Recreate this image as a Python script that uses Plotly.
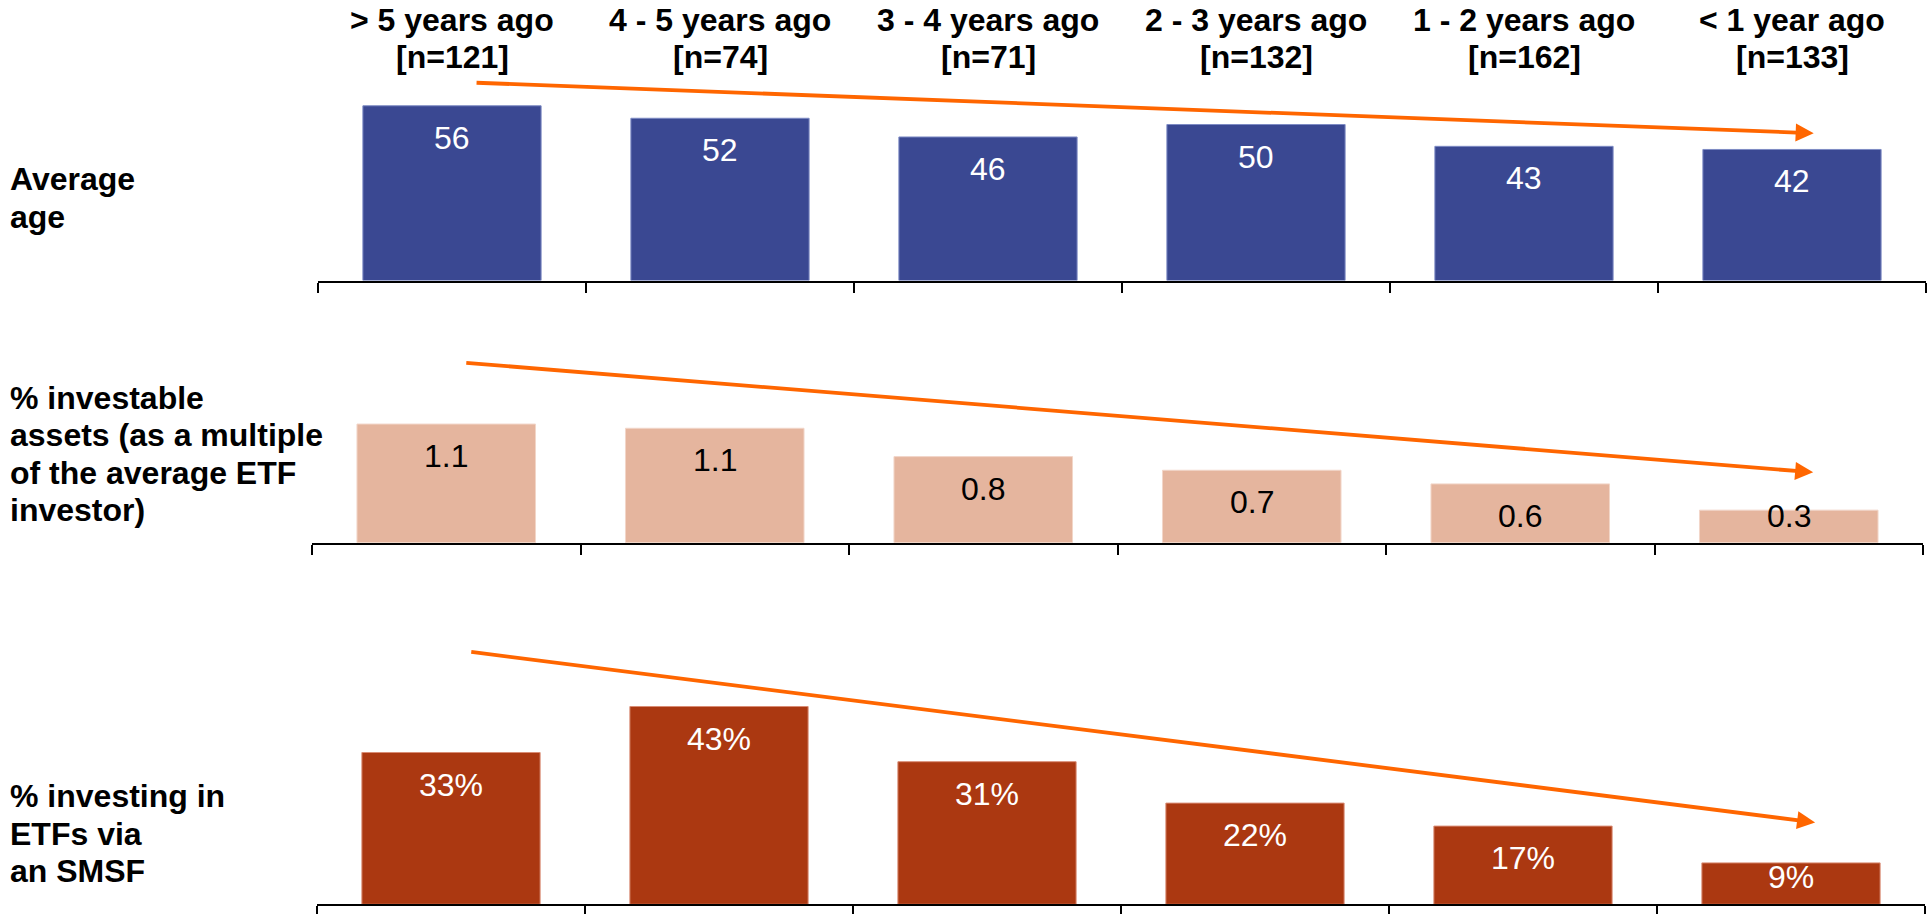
import plotly.graph_objects as go

# ---------------- data ----------------
periods = ["> 5 years ago", "4 - 5 years ago", "3 - 4 years ago",
           "2 - 3 years ago", "1 - 2 years ago", "< 1 year ago"]
sample_sizes = [121, 74, 71, 132, 162, 133]

avg_age = [56, 52, 46, 50, 43, 42]
rel_assets = [1.13, 1.09, 0.82, 0.69, 0.56, 0.31]
smsf_pct = [33, 43, 31, 22, 17, 9]

row_titles = [
    ["Average", "age"],
    ["% investable", "assets (as a multiple", "of the average ETF", "investor)"],
    ["% investing in", "ETFs via", "an SMSF"],
]

# trend arrows (start -> tip), in category-index / value units of each panel
trend_start = [(0.086, 63.4), (0.069, 1.714), (0.070, 54.9)]
trend_end = [(5.081, 47.2), (5.091, 0.670), (5.090, 17.8)]

# ---------------- styling ----------------
W, H = 1928, 914
FONT = "Liberation Sans, Arial, Helvetica, sans-serif"
ORANGE = "#FF6600"

panels = [
    dict(values=avg_age, fmt=lambda v: f"{v:g}", color="#3A4892", edge="#7E8BC4",
         txt="white", x0=318, x1=1926, base=280.5, scale=3.12, ymax=70),
    dict(values=rel_assets, fmt=lambda v: f"{v:.1f}", color="#E5B59E", edge="#F2D6C9",
         txt="black", x0=312, x1=1923, base=542.7, scale=105.0, ymax=1.9),
    dict(values=smsf_pct, fmt=lambda v: f"{v:g}%", color="#AB3811", edge="#D98C74",
         txt="white", x0=317, x1=1925, base=904.3, scale=4.6, ymax=58),
]

fig = go.Figure()
annotations = []

for k, p in enumerate(panels):
    sfx = "" if k == 0 else str(k + 1)
    xa, ya = "x" + sfx, "y" + sfx
    fig.add_trace(go.Bar(
        x=periods, y=p["values"], xaxis=xa, yaxis=ya,
        marker=dict(color=p["color"], line=dict(color=p["edge"], width=1)),
        hoverinfo="skip", showlegend=False,
    ))
    top_px = p["base"] - p["ymax"] * p["scale"]
    fig.update_layout(**{
        "xaxis" + sfx: dict(
            domain=[p["x0"] / W, p["x1"] / W], anchor=ya, type="category",
            range=[-0.5, 5.5], showticklabels=False, showgrid=False, zeroline=False,
            showline=True, linecolor="black", linewidth=2,
            ticks="outside", tickson="boundaries", ticklen=10, tickwidth=2,
            tickcolor="black", fixedrange=True,
        ),
        "yaxis" + sfx: dict(
            domain=[1 - p["base"] / H, 1 - top_px / H], anchor=xa,
            range=[0, p["ymax"]], visible=False, showgrid=False, zeroline=False,
            fixedrange=True,
        ),
    })
    # value labels
    for cat, v in zip(periods, p["values"]):
        ylab = max(v - 32 / p["scale"], 27 / p["scale"])
        annotations.append(dict(
            x=cat, y=ylab, xref=xa, yref=ya, text=p["fmt"](v), showarrow=False,
            xanchor="center", yanchor="middle",
            font=dict(family=FONT, size=32, color=p["txt"]),
        ))
    # trend arrow
    (sx, sy), (ex, ey) = trend_start[k], trend_end[k]
    annotations.append(dict(
        x=ex, y=ey, ax=sx, ay=sy, xref=xa, yref=ya, axref=xa, ayref=ya,
        text="", showarrow=True, arrowhead=2, arrowsize=0.95, arrowwidth=3.8,
        arrowcolor=ORANGE, standoff=0, startstandoff=0,
    ))

# column headers
for cat, n in zip(periods, sample_sizes):
    annotations.append(dict(
        x=cat, y=1 - 20 / H, xref="x", yref="paper", text=f"<b>{cat}</b>",
        showarrow=False, xanchor="center", yanchor="middle",
        font=dict(family=FONT, size=32, color="black"),
    ))
    annotations.append(dict(
        x=cat, y=1 - 57 / H, xref="x", yref="paper", text=f"<b>[n={n}]</b>",
        showarrow=False, xanchor="center", yanchor="middle",
        font=dict(family=FONT, size=32, color="black"),
    ))

# row titles
row_first_px = [179, 397.5, 796]
for lines, y0 in zip(row_titles, row_first_px):
    for j, line in enumerate(lines):
        annotations.append(dict(
            x=8 / W, y=1 - (y0 + j * 37.6) / H, xref="paper", yref="paper",
            text=f"<b>{line}</b>", showarrow=False, xanchor="left", yanchor="middle",
            align="left", font=dict(family=FONT, size=32, color="black"),
        ))

fig.update_layout(
    width=W, height=H, margin=dict(l=0, r=0, t=0, b=0),
    paper_bgcolor="white", plot_bgcolor="white",
    bargap=0.335, annotations=annotations, showlegend=False,
    font=dict(family=FONT),
)

fig.write_html(
    "out.html",
    config={"displayModeBar": False},
    post_script="document.body.style.margin='0px';document.body.style.overflow='hidden';",
)
